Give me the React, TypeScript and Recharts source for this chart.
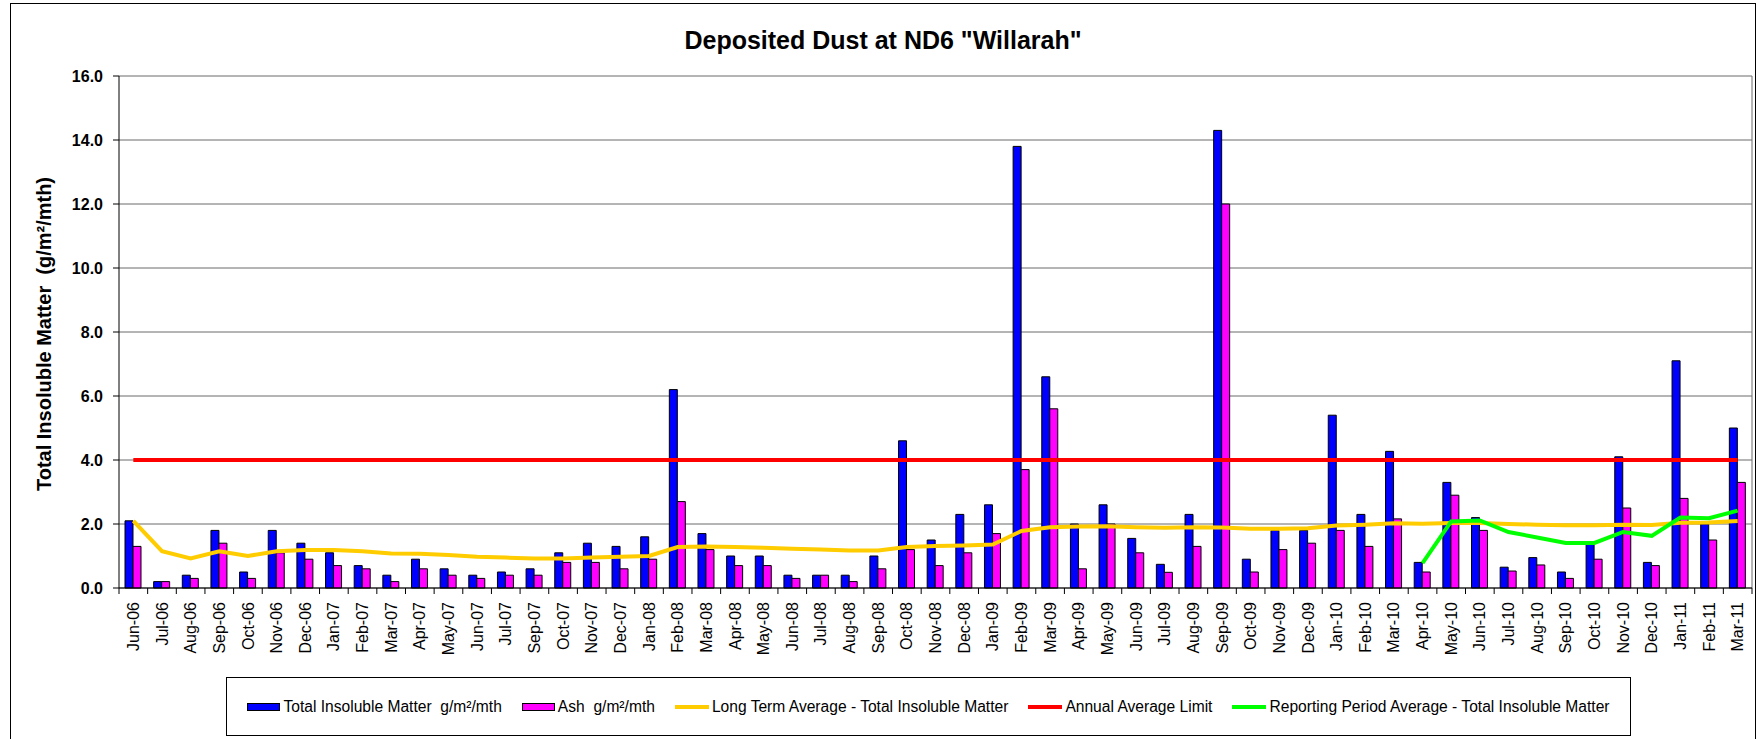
import React from "react";
import { ComposedChart, Bar, Line, XAxis, YAxis, CartesianGrid } from "recharts";

const months = [
  "Jun-06", "Jul-06", "Aug-06", "Sep-06", "Oct-06", "Nov-06", "Dec-06",
  "Jan-07", "Feb-07", "Mar-07", "Apr-07", "May-07", "Jun-07", "Jul-07", "Sep-07", "Oct-07", "Nov-07", "Dec-07",
  "Jan-08", "Feb-08", "Mar-08", "Apr-08", "May-08", "Jun-08", "Jul-08", "Aug-08", "Sep-08", "Oct-08", "Nov-08", "Dec-08",
  "Jan-09", "Feb-09", "Mar-09", "Apr-09", "May-09", "Jun-09", "Jul-09", "Aug-09", "Sep-09", "Oct-09", "Nov-09", "Dec-09",
  "Jan-10", "Feb-10", "Mar-10", "Apr-10", "May-10", "Jun-10", "Jul-10", "Aug-10", "Sep-10", "Oct-10", "Nov-10", "Dec-10",
  "Jan-11", "Feb-11", "Mar-11",
];

const totalInsoluble = [
  2.1, 0.2, 0.4, 1.8, 0.5, 1.8, 1.4,
  1.1, 0.7, 0.4, 0.9, 0.6, 0.4, 0.5, 0.6, 1.1, 1.4, 1.3,
  1.6, 6.2, 1.7, 1.0, 1.0, 0.4, 0.4, 0.4, 1.0, 4.6, 1.5, 2.3,
  2.6, 13.8, 6.6, 2.0, 2.6, 1.55, 0.74, 2.3, 14.3, 0.9, 1.8, 1.8,
  5.4, 2.3, 4.27, 0.8, 3.3, 2.2, 0.65, 0.95, 0.5, 1.4, 4.1, 0.8,
  7.1, 2.0, 5.0,
];

const ash = [
  1.3, 0.2, 0.3, 1.4, 0.3, 1.1, 0.9,
  0.7, 0.6, 0.2, 0.6, 0.4, 0.3, 0.4, 0.4, 0.8, 0.8, 0.6,
  0.9, 2.7, 1.2, 0.7, 0.7, 0.3, 0.4, 0.2, 0.6, 1.2, 0.7, 1.1,
  1.7, 3.7, 5.6, 0.6, 2.0, 1.1, 0.49, 1.3, 12.0, 0.5, 1.2, 1.4,
  1.8, 1.3, 2.16, 0.5, 2.9, 1.8, 0.53, 0.72, 0.3, 0.9, 2.5, 0.7,
  2.8, 1.5, 3.3,
];

const longTermAvg = [
  2.1, 1.15, 0.92, 1.15, 1.0, 1.15, 1.19,
  1.19, 1.15, 1.08, 1.07, 1.03, 0.98, 0.95, 0.92, 0.92, 0.95, 0.98,
  1.0, 1.28, 1.3, 1.28, 1.26, 1.23, 1.2, 1.17, 1.17, 1.28, 1.31, 1.33,
  1.36, 1.78, 1.9, 1.92, 1.93, 1.9, 1.88, 1.9, 1.89, 1.85, 1.85, 1.87,
  1.95, 1.98, 2.02, 2.01, 2.03, 2.03, 2.0, 1.98, 1.96, 1.96, 1.98, 1.97,
  2.04, 2.05, 2.09,
];

const annualLimit = [
  4.0, 4.0, 4.0, 4.0, 4.0, 4.0, 4.0,
  4.0, 4.0, 4.0, 4.0, 4.0, 4.0, 4.0, 4.0, 4.0, 4.0, 4.0,
  4.0, 4.0, 4.0, 4.0, 4.0, 4.0, 4.0, 4.0, 4.0, 4.0, 4.0, 4.0,
  4.0, 4.0, 4.0, 4.0, 4.0, 4.0, 4.0, 4.0, 4.0, 4.0, 4.0, 4.0,
  4.0, 4.0, 4.0, 4.0, 4.0, 4.0, 4.0, 4.0, 4.0, 4.0, 4.0, 4.0,
  4.0, 4.0, 4.0,
];

const reportingAvg = [
  null, null, null, null, null, null, null,
  null, null, null, null, null, null, null, null, null, null, null,
  null, null, null, null, null, null, null, null, null, null, null, null,
  null, null, null, null, null, null, null, null, null, null, null, null,
  null, null, null, 0.78, 2.08, 2.11, 1.75, 1.58, 1.41, 1.41, 1.75, 1.63,
  2.2, 2.18, 2.42,
];

const yTicks = [0, 2, 4, 6, 8, 10, 12, 14, 16];

const data = months.map((m, i) => ({
  month: m,
  total: totalInsoluble[i],
  ash: ash[i],
  longTerm: longTermAvg[i],
  limit: annualLimit[i],
  reporting: reportingAvg[i],
}));

const FONT = '"Liberation Sans", Arial, sans-serif';
const W = 1759;
const H = 739;
const PLOT_LEFT = 119;
const PLOT_RIGHT = 1752;
const STEP = (PLOT_RIGHT - PLOT_LEFT) / months.length;

const MonthTick = (props: any) => {
  const { x, y, payload, index } = props;
  const left = x - STEP / 2;
  return (
    <g>
      <line x1={left} x2={left} y1={y} y2={y + 6} stroke="#000" />
      {index === months.length - 1 && (
        <line x1={x + STEP / 2} x2={x + STEP / 2} y1={y} y2={y + 6} stroke="#000" />
      )}
      <text
        x={x}
        y={y + 14}
        dy="0.35em"
        textAnchor="end"
        transform={`rotate(-90, ${x}, ${y + 14})`}
        fontSize={16}
        fontFamily={FONT}
        fill="#000"
      >
        {payload.value}
      </text>
    </g>
  );
};

const legendItems = [
  { label: "Total Insoluble Matter  g/m²/mth", color: "#0000FF", kind: "bar" },
  { label: "Ash  g/m²/mth", color: "#FF00FF", kind: "bar" },
  { label: "Long Term Average - Total Insoluble Matter", color: "#FFCC00", kind: "line" },
  { label: "Annual Average Limit", color: "#FF0000", kind: "line" },
  { label: "Reporting Period Average - Total Insoluble Matter", color: "#00FF00", kind: "line" },
];

export default function App() {
  return (
    <div style={{ position: "absolute", left: 0, top: 0, width: W, height: H, background: "#fff", fontFamily: FONT, overflow: "hidden" }}>
      <div style={{ position: "absolute", left: 10, top: 3, width: 1746, height: 760, border: "1px solid #000", boxSizing: "border-box" }} />
      <div style={{ position: "absolute", left: 0, width: 1766, top: 25, textAlign: "center", fontWeight: "bold", fontSize: 25, lineHeight: "30px" }}>
        Deposited Dust at ND6 "Willarah"
      </div>
      <div
        style={{
          position: "absolute",
          left: 44,
          top: 334,
          transform: "translate(-50%, -50%) rotate(-90deg)",
          whiteSpace: "pre",
          fontWeight: "bold",
          fontSize: 20,
        }}
      >
        {"Total Insoluble Matter  (g/m²/mth)"}
      </div>
      <ComposedChart
        width={W}
        height={H}
        data={data}
        margin={{ top: 76, right: W - PLOT_RIGHT, left: 0, bottom: 0 }}
        barGap={0}
        style={{ position: "absolute", left: 0, top: 0 }}
      >
        <CartesianGrid
          stroke="#6b6b6b"
          vertical={true}
          verticalPoints={[PLOT_RIGHT]}
        />
        <XAxis
          dataKey="month"
          interval={0}
          height={151}
          tickSize={0}
          tickMargin={0}
          tickLine={false}
          axisLine={{ stroke: "#000" }}
          tick={<MonthTick />}
        />
        <YAxis
          width={PLOT_LEFT}
          domain={[0, 16]}
          ticks={yTicks}
          interval={0}
          tickFormatter={(v: number) => v.toFixed(1)}
          tickSize={6}
          tickMargin={10}
          tickLine={{ stroke: "#000" }}
          axisLine={{ stroke: "#000" }}
          tick={{ fontSize: 16, fontWeight: "bold", fill: "#000", fontFamily: FONT }}
        />
        <Bar dataKey="total" fill="#0000FF" stroke="#000" strokeWidth={1} barSize={8} isAnimationActive={false} />
        <Bar dataKey="ash" fill="#FF00FF" stroke="#000" strokeWidth={1} barSize={8} isAnimationActive={false} />
        <Line dataKey="longTerm" stroke="#FFCC00" strokeWidth={4} dot={false} type="linear" isAnimationActive={false} />
        <Line dataKey="limit" stroke="#FF0000" strokeWidth={4} dot={false} type="linear" isAnimationActive={false} />
        <Line dataKey="reporting" stroke="#00FF00" strokeWidth={4} dot={false} type="linear" connectNulls={false} isAnimationActive={false} />
      </ComposedChart>
      <div
        style={{
          position: "absolute",
          left: 226,
          top: 677,
          width: 1405,
          height: 59,
          border: "1px solid #000",
          boxSizing: "border-box",
          display: "flex",
          alignItems: "center",
          justifyContent: "center",
          gap: 20,
          fontSize: 15.6,
          background: "#fff",
        }}
      >
        {legendItems.map((it) => (
          <div key={it.label} style={{ display: "flex", alignItems: "center", gap: 3, whiteSpace: "pre" }}>
            {it.kind === "bar" ? (
              <div style={{ width: 33, height: 8, background: it.color, border: "1px solid #000", boxSizing: "border-box" }} />
            ) : (
              <div style={{ width: 34, height: 4, background: it.color }} />
            )}
            <span>{it.label}</span>
          </div>
        ))}
      </div>
    </div>
  );
}
